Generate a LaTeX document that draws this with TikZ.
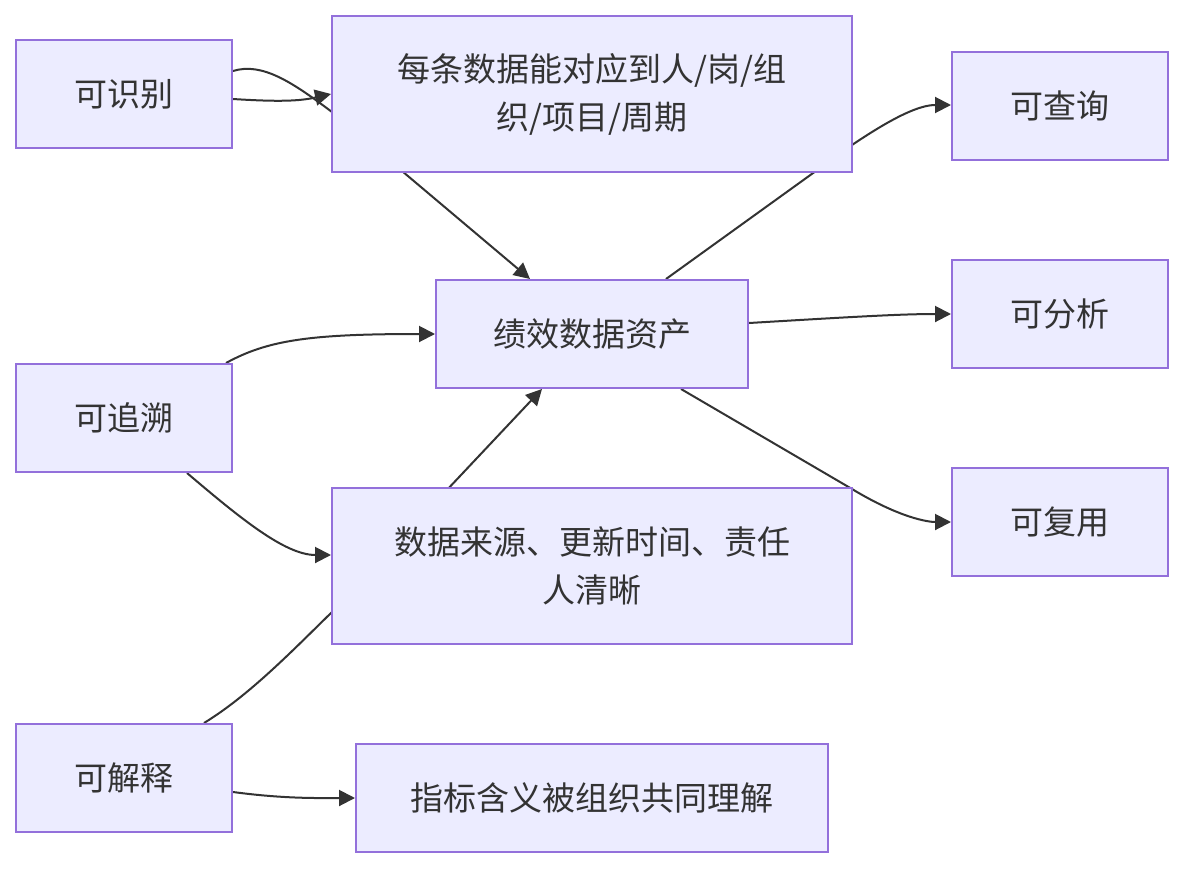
\documentclass[tikz,border=0pt]{standalone}
\usepackage{fontspec}
\setmainfont{Noto Sans CJK SC}
\usepackage{tikz}
\usetikzlibrary{arrows.meta,calc,backgrounds}
\definecolor{boxfill}{HTML}{ECECFF}
\definecolor{boxline}{HTML}{9370DB}
\definecolor{inkgray}{HTML}{333333}
\tikzset{
  attrbox/.style  = {draw=boxline, fill=boxfill, line width=1pt, text=inkgray,
                     font=\fontsize{16.5pt}{24pt}\selectfont, align=center,
                     minimum width=108pt, minimum height=54pt, inner sep=0pt},
  widebox/.style  = {attrbox, minimum width=260pt, minimum height=78pt},
  linkar/.style   = {-{Triangle[length=8pt,width=8pt]}, inkgray, line width=1pt}
}

\begin{document}
\begin{tikzpicture}[x=0.5pt,y=-0.5pt]
  \useasboundingbox (0,0) rectangle (1184,868);
  % attributes on the left
  \node[attrbox] (shibie) at (124,94)  {可识别};
  \node[attrbox] (zhuisu) at (124,418) {可追溯};
  \node[attrbox] (jieshi) at (124,778) {可解释};
  % descriptions and the asset
  \node[widebox] (duiying) at (592,94)  {每条数据能对应到人/岗/组\\织/项目/周期};
  \node[attrbox, minimum width=156pt] (zichan) at (592,334) {绩效数据资产};
  \node[widebox] (laiyuan) at (592,566) {数据来源、更新时间、责任\\人清晰};
  \node[attrbox, minimum width=236pt] (lijie) at (592,798) {指标含义被组织共同理解};
  % uses on the right
  \node[attrbox] (chaxun) at (1060,106) {可查询};
  \node[attrbox] (fenxi)  at (1060,314) {可分析};
  \node[attrbox] (fuyong) at (1060,522) {可复用};

  \begin{scope}[on background layer]
    \draw[linkar] ($(shibie.east)+(0,5)$) .. controls (280,102) and (300,101) .. (duiying.west);
    \draw[linkar] ($(shibie.east)+(0,-23)$) .. controls (262,62) and (292,82) .. (332,112)
                  -- ($(zichan.north)+(-62,0)$);
    \draw[linkar] ($(zhuisu.north)+(102,0)$) .. controls (268,340) and (310,334) .. (zichan.west);
    \draw[linkar] ($(zhuisu.south)+(63,0)$) .. controls (240,518) and (285,555) .. ($(laiyuan.west)+(0,-11)$);
    \draw[linkar] ($(jieshi.north)+(80,0)$) .. controls (250,695) and (295,648) .. (332,612)
                  -- ($(zichan.south)+(-50,0)$);
    \draw[linkar] ($(jieshi.east)+(0,14)$) .. controls (285,799) and (320,798) .. (lijie.west);
    \draw[linkar] ($(zichan.north)+(74,0)$) -- (852,145)
                  .. controls (895,116) and (920,105) .. ($(chaxun.west)+(0,-1)$);
    \draw[linkar] ($(zichan.east)+(0,-11)$) .. controls (850,317) and (900,314) .. (fenxi.west);
    \draw[linkar] ($(zichan.south)+(89,0)$) -- (852,489)
                  .. controls (900,518) and (928,522) .. (fuyong.west);
  \end{scope}
\end{tikzpicture}
\end{document}
